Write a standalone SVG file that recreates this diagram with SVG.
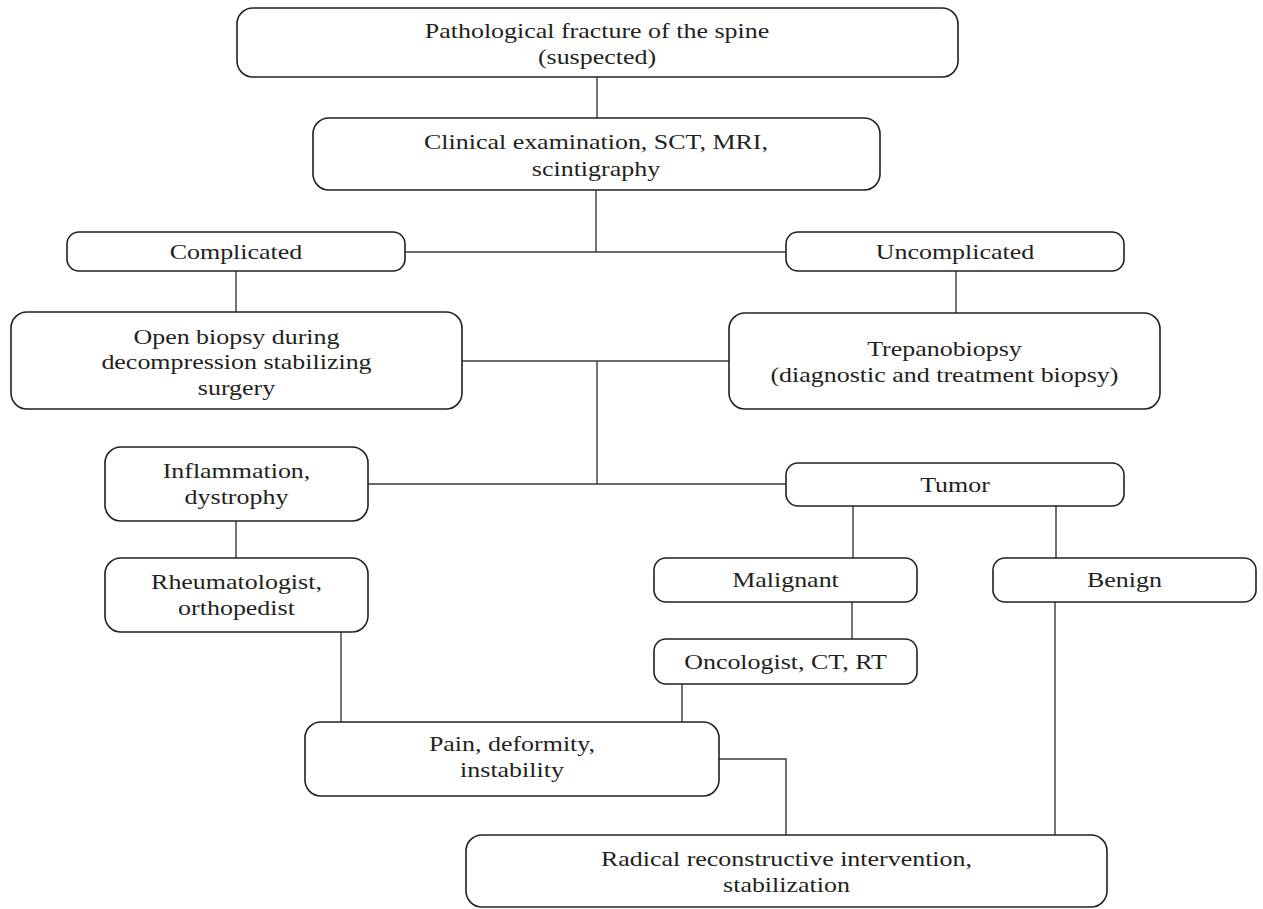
<svg xmlns="http://www.w3.org/2000/svg" width="1263" height="909" viewBox="0 0 1263 909">
<style>
.box{fill:#fff;stroke:#231f20;stroke-width:1.6}
.t{font-family:"Liberation Serif","Times New Roman",serif;font-size:22px;fill:#231f20;text-anchor:middle}
.c{fill:none;stroke:#3a3a3a;stroke-width:1.4}
</style>
<rect width="1263" height="909" fill="#fff"/>
<g id="connectors">
<path class="c" d="M597 77V118"/>
<path class="c" d="M596 190V252"/>
<path class="c" d="M405 252H786"/>
<path class="c" d="M236 271V312"/>
<path class="c" d="M956 271V313"/>
<path class="c" d="M462 361H729"/>
<path class="c" d="M597 361V484"/>
<path class="c" d="M368 484H786"/>
<path class="c" d="M236 521V558"/>
<path class="c" d="M853 506V558"/>
<path class="c" d="M1056 506V558"/>
<path class="c" d="M852 602V639"/>
<path class="c" d="M1055 602V835"/>
<path class="c" d="M341 632V722"/>
<path class="c" d="M682 684V722"/>
<path class="c" d="M719 759H786V835"/>
</g>
<g id="n1"><rect class="box" x="237" y="8" width="721" height="69" rx="16"/><text class="t" transform="scale(1.18 1)" x="505.93" y="38">Pathological fracture of the spine</text><text class="t" transform="scale(1.18 1)" x="505.93" y="64">(suspected)</text></g>
<g id="n2"><rect class="box" x="313" y="118" width="567" height="72" rx="16"/><text class="t" transform="scale(1.18 1)" x="505.08" y="149">Clinical examination, SCT, MRI,</text><text class="t" transform="scale(1.18 1)" x="505.08" y="176">scintigraphy</text></g>
<g id="n3"><rect class="box" x="67" y="232" width="338" height="39" rx="12"/><text class="t" transform="scale(1.18 1)" x="200" y="259">Complicated</text></g>
<g id="n4"><rect class="box" x="786" y="232" width="338" height="39" rx="12"/><text class="t" transform="scale(1.18 1)" x="809.32" y="259">Uncomplicated</text></g>
<g id="n5"><rect class="box" x="11" y="312" width="451" height="97" rx="16"/><text class="t" transform="scale(1.18 1)" x="200.42" y="344">Open biopsy during</text><text class="t" transform="scale(1.18 1)" x="200.42" y="369">decompression stabilizing</text><text class="t" transform="scale(1.18 1)" x="200.42" y="395">surgery</text></g>
<g id="n6"><rect class="box" x="729" y="313" width="431" height="96" rx="16"/><text class="t" transform="scale(1.18 1)" x="800.42" y="356">Trepanobiopsy</text><text class="t" transform="scale(1.18 1)" x="800.42" y="382">(diagnostic and treatment biopsy)</text></g>
<g id="n7"><rect class="box" x="105" y="447" width="263" height="74" rx="16"/><text class="t" transform="scale(1.18 1)" x="200.42" y="478">Inflammation,</text><text class="t" transform="scale(1.18 1)" x="200.42" y="504">dystrophy</text></g>
<g id="n8"><rect class="box" x="786" y="463" width="338" height="43" rx="12"/><text class="t" transform="scale(1.18 1)" x="809.32" y="492">Tumor</text></g>
<g id="n9"><rect class="box" x="105" y="558" width="263" height="74" rx="16"/><text class="t" transform="scale(1.18 1)" x="200.42" y="589">Rheumatologist,</text><text class="t" transform="scale(1.18 1)" x="200.42" y="615">orthopedist</text></g>
<g id="n10"><rect class="box" x="654" y="558" width="263" height="44" rx="12"/><text class="t" transform="scale(1.18 1)" x="665.68" y="587">Malignant</text></g>
<g id="n11"><rect class="box" x="993" y="558" width="263" height="44" rx="12"/><text class="t" transform="scale(1.18 1)" x="952.97" y="587">Benign</text></g>
<g id="n12"><rect class="box" x="654" y="639" width="263" height="45" rx="12"/><text class="t" transform="scale(1.18 1)" x="665.68" y="669">Oncologist, CT, RT</text></g>
<g id="n13"><rect class="box" x="305" y="722" width="414" height="74" rx="16"/><text class="t" transform="scale(1.18 1)" x="433.9" y="751">Pain, deformity,</text><text class="t" transform="scale(1.18 1)" x="433.9" y="777">instability</text></g>
<g id="n14"><rect class="box" x="466" y="835" width="641" height="72" rx="16"/><text class="t" transform="scale(1.18 1)" x="666.53" y="866">Radical reconstructive intervention,</text><text class="t" transform="scale(1.18 1)" x="666.53" y="892">stabilization</text></g>
</svg>
